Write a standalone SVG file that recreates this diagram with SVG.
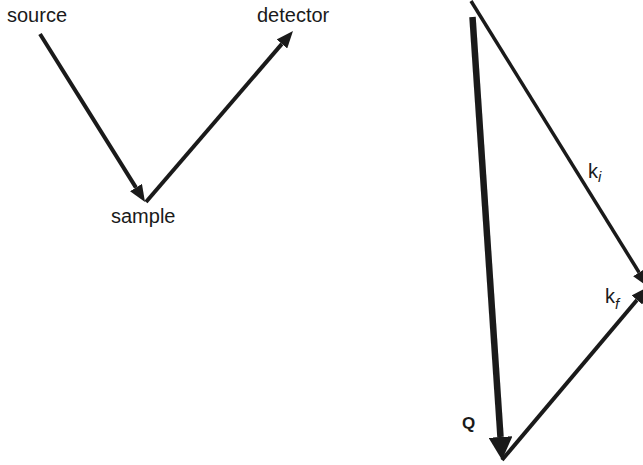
<svg xmlns="http://www.w3.org/2000/svg" width="643" height="465" viewBox="0 0 643 465">
<defs>
<style>
.lbl{font-family:"Liberation Sans",Arial,sans-serif;font-size:20px;fill:#1a1a1a}
.sub{font-style:italic;font-size:15px}
.q{font-weight:bold;font-size:17px}
.ln{stroke:#1a1a1a;fill:none;stroke-width:4}
.thin{stroke-width:3.5}
.thick{stroke-width:6.5}
</style>
<marker id="arr" markerUnits="userSpaceOnUse" viewBox="0 0 17 14" refX="0" refY="7" markerWidth="17" markerHeight="14" orient="auto">
<path d="M0,0 L17,7 L0,14 Z" fill="#1a1a1a"/>
</marker>
<marker id="arrBig" markerUnits="userSpaceOnUse" viewBox="0 0 23 24" refX="0" refY="12" markerWidth="23" markerHeight="24" orient="auto">
<path d="M0,0 L23,12 L0,24 Z" fill="#1a1a1a"/>
</marker>
</defs>
<rect width="643" height="465" fill="#fff"/>
<g id="connectors">
<line id="incident" class="ln" x1="40" y1="34" x2="136" y2="187.6" marker-end="url(#arr)"/>
<line id="scattered" class="ln" x1="146" y1="202" x2="281.9" y2="43.9" marker-end="url(#arr)"/>
<line id="ki-vec" class="ln thin" x1="471" y1="1" x2="639.1" y2="272.5" marker-end="url(#arr)"/>
<line id="kf-vec" class="ln" x1="502" y1="460" x2="637" y2="300" marker-end="url(#arr)"/>
<line id="q-vec" class="ln thick" x1="472.5" y1="17" x2="500.5" y2="437" marker-end="url(#arrBig)"/>
</g>
<g id="source"><text class="lbl" x="7" y="22">source</text></g>
<g id="detector"><text class="lbl" x="257" y="22">detector</text></g>
<g id="sample"><text class="lbl" x="111" y="223">sample</text></g>
<g id="ki"><text class="lbl" x="588" y="178">k<tspan class="sub" dy="4">i</tspan></text></g>
<g id="kf"><text class="lbl" x="605" y="303">k<tspan class="sub" dy="6">f</tspan></text></g>
<g id="Q"><text class="lbl q" x="462" y="429">Q</text></g>
</svg>
